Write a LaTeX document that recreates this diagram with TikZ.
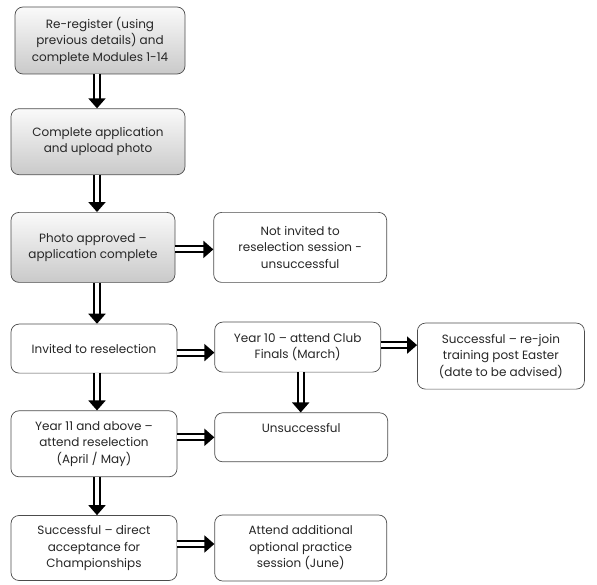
\documentclass[tikz,border=0pt]{standalone}
\usepackage{fontspec}
\setmainfont{Poppins}
\usetikzlibrary{positioning, arrows.meta}
\tikzset{
    x=1pt, y=1pt,
    stage/.style={draw=black!70, line width=0.7pt, rounded corners=8pt,
        align=center, text=black!85, font=\fontsize{12}{16.5}\selectfont,
        inner sep=2pt},
    grey/.style={stage, top color=gray!4, bottom color=gray!42},
    flow/.style={draw=black, line width=2pt, double=white, double distance=4pt,
        -{Triangle[width=17pt, length=10pt]}},
}

\begin{document}
\begin{tikzpicture}
    \useasboundingbox (0,0) rectangle (597,-585);

    \node[grey, minimum width=170pt, minimum height=67pt] (reg) at (100,-40.5)
        {Re-register (using\\previous details) and\\complete Modules 1-14};
    \node[grey, minimum width=174pt, minimum height=66pt, below=34pt of reg, xshift=-2pt] (app)
        {Complete application\\and upload photo};
    \node[grey, minimum width=164pt, minimum height=70pt, below=37pt of app, xshift=-5pt] (photo)
        {Photo approved –\\application complete};
    \node[stage, minimum width=173pt, minimum height=70pt, right=38pt of photo] (notinv)
        {Not invited to\\reselection session -\\unsuccessful};
    \node[stage, minimum width=166pt, minimum height=49pt, below=41pt of photo, xshift=1pt] (invited)
        {Invited to reselection};
    \node[stage, minimum width=166pt, minimum height=50pt, right=37pt of invited, yshift=1.5pt] (year10)
        {Year 10 – attend Club\\Finals (March)};
    \node[stage, minimum width=167pt, minimum height=66pt, right=36pt of year10, yshift=-9pt] (rejoin)
        {Successful – re-join\\training post Easter\\(date to be advised)};
    \node[stage, minimum width=166pt, minimum height=66pt, below=37pt of invited] (year11)
        {Year 11 and above –\\attend reselection\\(April / May)};
    \node[stage, minimum width=173pt, minimum height=49pt, below=40pt of year10, xshift=3.5pt] (unsucc)
        {Unsuccessful\\[2pt]};
    \node[stage, minimum width=166pt, minimum height=65pt, below=38pt of year11] (direct)
        {Successful – direct\\acceptance for\\Championships};
    \node[stage, minimum width=172pt, minimum height=66pt, right=37pt of direct] (attend)
        {Attend additional\\optional practice\\session (June)};

    \draw[flow] ([xshift=-3pt]reg.south) -- ([xshift=-3pt]reg.south |- app.north);
    \draw[flow] ([xshift=-1pt]app.south) -- ([xshift=-1pt]app.south |- photo.north);
    \draw[flow] ([xshift=4pt]photo.south) -- ([xshift=4pt]photo.south |- invited.north);
    \draw[flow] ([xshift=3pt]invited.south) -- ([xshift=3pt]invited.south |- year11.north);
    \draw[flow] ([xshift=3pt]year11.south) -- ([xshift=3pt]year11.south |- direct.north);
    \draw[flow] ([yshift=-2pt]photo.east) -- ([yshift=-2pt]photo.east -| notinv.west);
    \draw[flow] ([yshift=-4pt]invited.east) -- ([yshift=-4pt]invited.east -| year10.west);
    \draw[flow] ([yshift=2pt]year10.east) -- ([yshift=2pt]year10.east -| rejoin.west);
    \draw[flow] ([xshift=3pt]year10.south) -- ([xshift=3pt]year10.south |- unsucc.north);
    \draw[flow] (year11.east |- unsucc.west) -- (unsucc.west);
    \draw[flow] ([yshift=4pt]direct.east) -- ([yshift=4pt]direct.east -| attend.west);
\end{tikzpicture}
\end{document}
